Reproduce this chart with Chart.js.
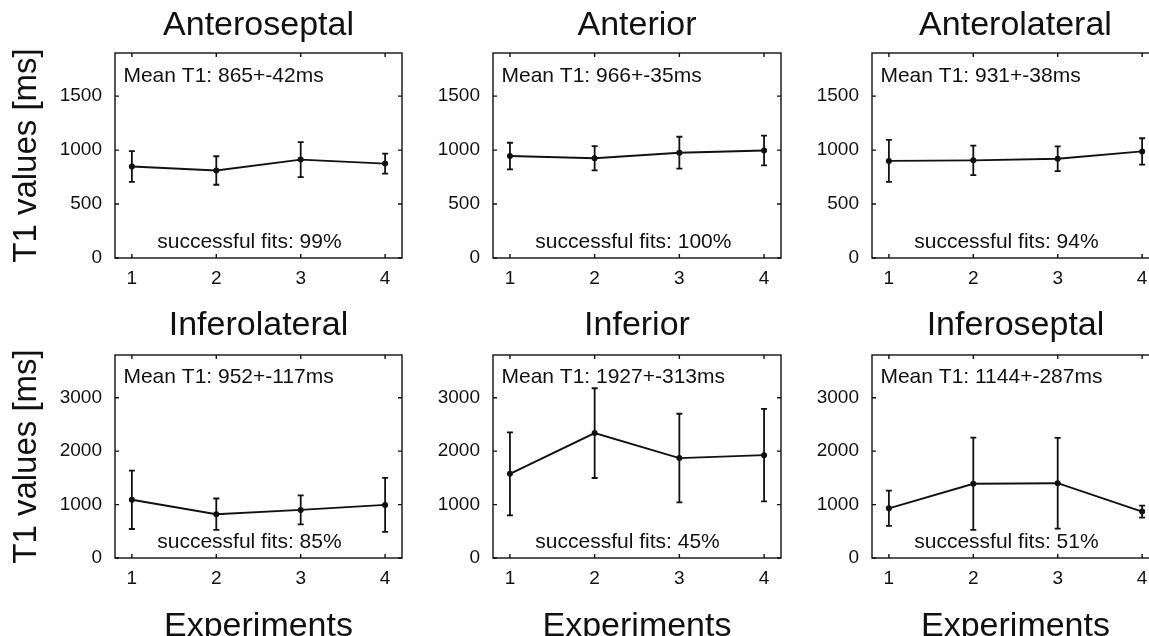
<!DOCTYPE html>
<html>
<head>
<meta charset="utf-8">
<script src="https://cdn.jsdelivr.net/npm/chart.js@4"></script>
<style>
  html, body { margin: 0; padding: 0; background: #fff; overflow: hidden; }
  body { width: 1149px; height: 636px; position: relative; }
  canvas { position: absolute; }
</style>
</head>
<body>
<script>
// Experiments (x axis)
const experiments = [1, 2, 3, 4];

// Panel titles (segments)
const regions = ["Anteroseptal", "Anterior", "Anterolateral", "Inferolateral", "Inferior", "Inferoseptal"];

// T1 values per experiment [ms]
const anteroseptal = [848, 811, 912, 875];
const anterior = [945, 924, 976, 997];
const anterolateral = [900, 905, 920, 988];
const inferolateral = [1090, 820, 900, 994];
const inferior = [1575, 2338, 1870, 1925];
const inferoseptal = [930, 1390, 1400, 869];

// Error bar half lengths [ms]
const anteroseptalErr = [142, 132, 162, 93];
const anteriorErr = [123, 112, 148, 138];
const anterolateralErr = [195, 136, 115, 122];
const inferolateralErr = [547, 294, 272, 506];
const inferiorErr = [778, 840, 830, 865];
const inferoseptalErr = [330, 865, 850, 113];

const meanTexts = ["Mean T1: 865+-42ms", "Mean T1: 966+-35ms", "Mean T1: 931+-38ms",
                   "Mean T1: 952+-117ms", "Mean T1: 1927+-313ms", "Mean T1: 1144+-287ms"];
const fitTexts = ["successful fits: 99%", "successful fits: 100%", "successful fits: 94%",
                  "successful fits: 85%", "successful fits: 45%", "successful fits: 51%"];

// Axis ticks
const yTicksTop = [0, 500, 1000, 1500];
const yTicksBottom = [0, 1000, 2000, 3000];
const yMaxTop = 1900;
const yMaxBottom = 3800;

const series = [anteroseptal, anterior, anterolateral, inferolateral, inferior, inferoseptal];
const errors = [anteroseptalErr, anteriorErr, anterolateralErr, inferolateralErr, inferiorErr, inferoseptalErr];

const FONT = "'Liberation Sans', Arial, Helvetica, sans-serif";
const INK = "#111";

// panel geometry
const cols = [
  { left: 0, width: 430, axisW: 115, padR: 28 },
  { left: 430, width: 380, axisW: 63, padR: 29 },
  { left: 810, width: 370, axisW: 62, padR: 21 }
];
const rows = [
  { top: 0, height: 300, titlePad: { top: 9, bottom: 10 }, axisH: 42 },
  { top: 300, height: 350, titlePad: { top: 9, bottom: 12 }, axisH: 92 }
];

// box with inward ticks on all sides
const boxPlugin = {
  id: "box",
  afterDraw(chart) {
    const { ctx, chartArea: a, scales: { x, y } } = chart;
    ctx.save();
    ctx.strokeStyle = INK;
    ctx.lineWidth = 1.4;
    ctx.strokeRect(a.left, a.top, a.right - a.left, a.bottom - a.top);
    ctx.beginPath();
    x.ticks.forEach(t => {
      const px = x.getPixelForValue(t.value);
      ctx.moveTo(px, a.bottom); ctx.lineTo(px, a.bottom - 4);
      ctx.moveTo(px, a.top); ctx.lineTo(px, a.top + 4);
    });
    y.ticks.forEach(t => {
      const py = y.getPixelForValue(t.value);
      ctx.moveTo(a.left, py); ctx.lineTo(a.left + 4, py);
      ctx.moveTo(a.right, py); ctx.lineTo(a.right - 4, py);
    });
    ctx.stroke();
    ctx.restore();
  }
};

// vertical error bars + annotation text
const errorPlugin = {
  id: "errorBars",
  afterDatasetsDraw(chart) {
    const { ctx, scales: { x, y } } = chart;
    const ds = chart.data.datasets[0];
    ctx.save();
    ctx.strokeStyle = INK;
    ctx.lineWidth = 1.8;
    ctx.beginPath();
    ds.data.forEach((p, i) => {
      const px = x.getPixelForValue(p.x);
      const hi = y.getPixelForValue(p.y + ds.err[i]);
      const lo = y.getPixelForValue(p.y - ds.err[i]);
      ctx.moveTo(px, hi); ctx.lineTo(px, lo);
      ctx.moveTo(px - 3, hi); ctx.lineTo(px + 3, hi);
      ctx.moveTo(px - 3, lo); ctx.lineTo(px + 3, lo);
    });
    ctx.stroke();

    ctx.fillStyle = INK;
    ctx.font = "21px " + FONT;
    ctx.textAlign = "left";
    ctx.textBaseline = "alphabetic";
    ctx.fillText(ds.meanText, x.getPixelForValue(0.9), y.getPixelForValue(0.86 * y.max));
    ctx.fillText(ds.fitText, x.getPixelForValue(1.3), y.getPixelForValue(0.05 * y.max));
    ctx.restore();
  }
};

regions.forEach((name, i) => {
  const col = cols[i % 3];
  const row = rows[Math.floor(i / 3)];
  const isBottom = i >= 3;
  const canvas = document.createElement("canvas");
  canvas.width = col.width;
  canvas.height = row.height;
  canvas.style.left = col.left + "px";
  canvas.style.top = row.top + "px";
  document.body.appendChild(canvas);

  const yTicks = isBottom ? yTicksBottom : yTicksTop;

  new Chart(canvas.getContext("2d"), {
    type: "line",
    data: {
      datasets: [{
        data: experiments.map((e, k) => ({ x: e, y: series[i][k] })),
        err: errors[i],
        meanText: meanTexts[i],
        fitText: fitTexts[i],
        borderColor: INK,
        borderWidth: 1.9,
        pointRadius: 3,
        pointBackgroundColor: INK,
        pointBorderWidth: 0,
        tension: 0,
        fill: false
      }]
    },
    options: {
      responsive: false,
      animation: false,
      layout: { padding: { left: 0, right: col.padR, top: 0, bottom: 0 } },
      plugins: {
        legend: { display: false },
        tooltip: { enabled: false },
        title: {
          display: true,
          text: name,
          fullSize: false,
          color: INK,
          font: { family: FONT, size: 34, weight: "normal", lineHeight: 1 },
          padding: row.titlePad
        }
      },
      scales: {
        x: {
          type: "linear",
          min: 0.8,
          max: 4.2,
          grid: { display: false, drawTicks: false },
          border: { display: false },
          afterBuildTicks: s => { s.ticks = experiments.map(v => ({ value: v })); },
          afterFit: s => { s.height = row.axisH; },
          ticks: { color: INK, padding: 9, font: { family: FONT, size: 19 }, callback: v => String(v) },
          title: {
            display: isBottom,
            text: "Experiments",
            color: INK,
            font: { family: FONT, size: 34, lineHeight: 1 },
            padding: { top: 0, bottom: 6 }
          }
        },
        y: {
          min: 0,
          max: isBottom ? yMaxBottom : yMaxTop,
          grid: { display: false, drawTicks: false },
          border: { display: false },
          afterBuildTicks: s => { s.ticks = yTicks.map(v => ({ value: v })); },
          afterFit: s => { s.width = col.axisW; },
          ticks: { color: INK, padding: 13, font: { family: FONT, size: 19 }, callback: v => String(v) },
          title: {
            display: i % 3 === 0,
            text: "T1 values [ms]",
            color: INK,
            font: { family: FONT, size: 33, lineHeight: 1 },
            padding: { top: 10.5, bottom: 0 }
          }
        }
      }
    },
    plugins: [boxPlugin, errorPlugin]
  });
});
</script>
</body>
</html>
